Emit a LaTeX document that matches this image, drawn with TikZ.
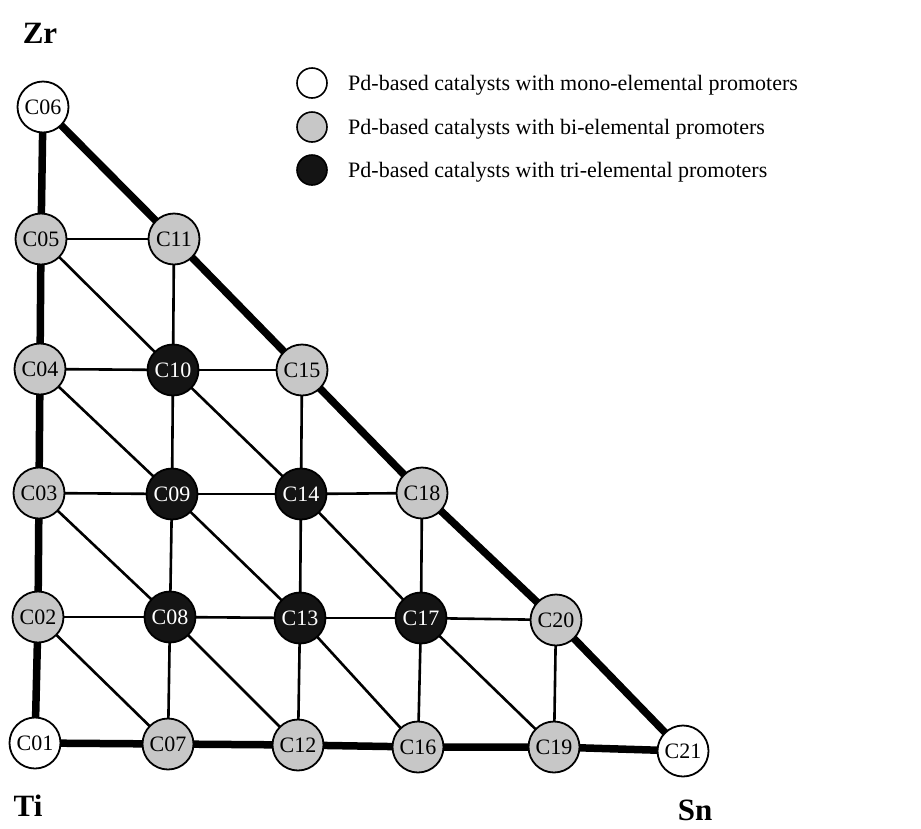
\documentclass[tikz,border=0pt]{standalone}
\usepackage{fontspec}
\setmainfont{Liberation Serif}
\begin{document}
\begin{tikzpicture}[x=1pt,y=-1pt,
  cat/.style={circle,draw=black,line width=1.8pt,minimum size=51pt,inner sep=0pt,font=\fontsize{22}{22}\selectfont},
  mono/.style={cat,fill=white},
  bi/.style={cat,fill=black!22},
  tri/.style={cat,fill=black!92,text=white},
  thin/.style={line width=2.6pt},
  thick/.style={line width=7.5pt},
  legm/.style={circle,draw=black,line width=1.6pt,minimum size=30pt,inner sep=0pt},
  legtxt/.style={anchor=west,inner sep=0pt,font=\fontsize{22}{22}\selectfont},
  corner/.style={font=\bfseries\fontsize{31}{31}\selectfont,inner sep=0pt}]
\useasboundingbox (0,0) rectangle (921,828);
% corner labels
\node[corner] (zr) at (40,33) {Zr};
\node[corner] (ti) at (28,806) {Ti};
\node[corner] (sn) at (695,810) {Sn};
% legend
\node[legm,fill=white] (l1) at (312,83) {};
\node[legm,fill=black!22] (l2) at (312,127) {};
\node[legm,fill=black!92] (l3) at (312,170) {};
\node[legtxt] (t1) at (348,85) {Pd-based catalysts with mono-elemental promoters};
\node[legtxt] (t2) at (348,129) {Pd-based catalysts with bi-elemental promoters};
\node[legtxt] (t3) at (348,172) {Pd-based catalysts with tri-elemental promoters};
% coordinates of nodes
\coordinate (p01) at (35,743);
\coordinate (p02) at (38,617);
\coordinate (p03) at (39,493);
\coordinate (p04) at (40,369);
\coordinate (p05) at (41,239);
\coordinate (p06) at (43,107);
\coordinate (p07) at (168,744);
\coordinate (p08) at (170,617);
\coordinate (p09) at (172,494);
\coordinate (p10) at (173,370);
\coordinate (p11) at (174,239);
\coordinate (p12) at (298,745);
\coordinate (p13) at (300,618);
\coordinate (p14) at (301,494);
\coordinate (p15) at (302,370);
\coordinate (p16) at (418,747);
\coordinate (p17) at (421,618);
\coordinate (p18) at (422,493);
\coordinate (p19) at (554,747);
\coordinate (p20) at (556,620);
\coordinate (p21) at (683,751);
% thin edges
\foreach \a/\b in {02/08,08/13,13/17,17/20, 03/09,09/14,14/18, 04/10,10/15, 05/11,
                   07/08,08/09,09/10,10/11, 12/13,13/14,14/15, 16/17,17/18, 19/20,
                   02/07,03/08,08/12,04/09,09/13,13/16,05/10,10/14,14/17,17/19}
  \draw[thin] (p\a) -- (p\b);
% thick outer edges
\draw[thick] (p01) -- (p02) -- (p03) -- (p04) -- (p05) -- (p06);
\draw[thick] (p01) -- (p07) -- (p12) -- (p16) -- (p19) -- (p21);
\draw[thick] (p06) -- (p11) -- (p15) -- (p18) -- (p20) -- (p21);
% nodes
\node[mono] (C01) at (p01) {C01};
\node[bi] (C02) at (p02) {C02};
\node[bi] (C03) at (p03) {C03};
\node[bi] (C04) at (p04) {C04};
\node[bi] (C05) at (p05) {C05};
\node[mono] (C06) at (p06) {C06};
\node[bi] (C07) at (p07) {C07};
\node[tri] (C08) at (p08) {C08};
\node[tri] (C09) at (p09) {C09};
\node[tri] (C10) at (p10) {C10};
\node[bi] (C11) at (p11) {C11};
\node[bi] (C12) at (p12) {C12};
\node[tri] (C13) at (p13) {C13};
\node[tri] (C14) at (p14) {C14};
\node[bi] (C15) at (p15) {C15};
\node[bi] (C16) at (p16) {C16};
\node[tri] (C17) at (p17) {C17};
\node[bi] (C18) at (p18) {C18};
\node[bi] (C19) at (p19) {C19};
\node[bi] (C20) at (p20) {C20};
\node[mono] (C21) at (p21) {C21};
\end{tikzpicture}
\end{document}
